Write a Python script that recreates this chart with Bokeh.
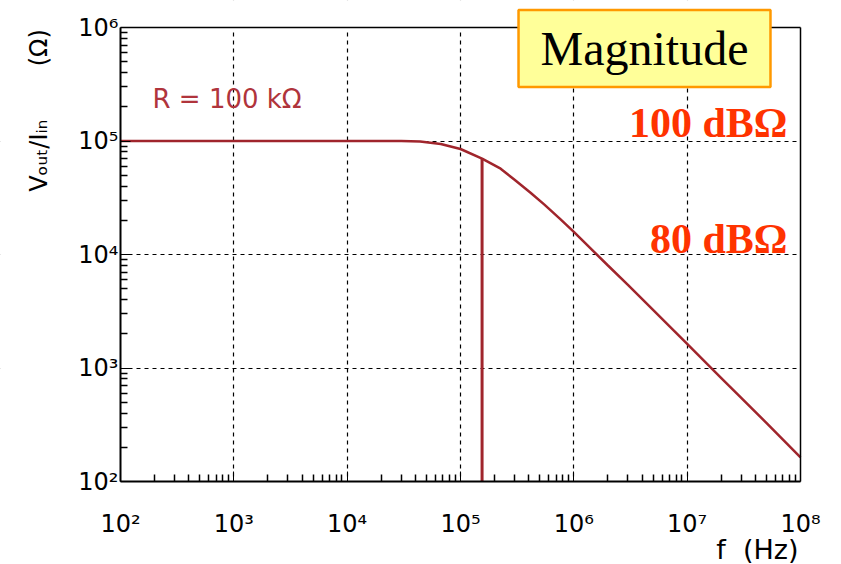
import math
from bokeh.plotting import figure
from bokeh.models import Label, Range1d, FixedTicker, LogAxis, BoxAnnotation
from bokeh.embed import file_html
from bokeh.resources import INLINE

# --- data ---
f_hz = [1e2, 1e3, 1e4, 3e4, 4.4e4, 6.7e4, 1e5, 1.55e5, 2.26e5, 3e5, 4.15e5, 5.5e5,
        7.6e5, 1e6, 2e6, 3e6, 5e6, 1e7, 2e7, 3e7, 5e7, 1e8]
mag_ohm = [1e5, 1e5, 1e5, 1e5, 9.9e4, 9.4e4, 8.5e4, 7.0e4, 5.7e4, 4.55e4, 3.5e4, 2.75e4,
           2.05e4, 1.58e4, 8.0e3, 5.4e3, 3.25e3, 1.63e3, 815, 545, 328, 163]
f_corner = [1.55e5, 1.55e5]
mag_corner = [1e2, 7.0e4]
x_ticks = [1e2, 1e3, 1e4, 1e5, 1e6, 1e7, 1e8]
x_tick_labels = ["10²", "10³", "10⁴", "10⁵", "10⁶", "10⁷", "10⁸"]
y_ticks = [1e2, 1e3, 1e4, 1e5, 1e6]
y_tick_labels = ["10²", "10³", "10⁴", "10⁵", "10⁶"]

# --- layout (pixels) ---
W, H = 841, 564
X0, X1 = 120, 800      # pixel columns of the x limits
Y0, Y1 = 481, 27       # pixel rows of the y limits
xmin, xmax = x_ticks[0], x_ticks[-1]
ymin, ymax = y_ticks[0], y_ticks[-1]
xdec = (X1 - X0) / math.log10(xmax / xmin)
ydec = (Y0 - Y1) / math.log10(ymax / ymin)


def dx(px):
    return xmin * 10 ** ((px - X0) / xdec)


def dy(py):
    return ymin * 10 ** ((Y0 - py) / ydec)


curve_color = "#a0252c"
font = "DejaVu Sans"

p = figure(width=W, height=H, x_axis_type="log", y_axis_type="log",
           x_range=Range1d(dx(0), dx(W)), y_range=Range1d(dy(H), dy(0)),
           output_backend="svg", toolbar_location=None, min_border=0)
p.outline_line_color = None
p.background_fill_color = "white"
p.border_fill_color = "white"

for ax, ticks, labels, loc, bnds in ((p.xaxis[0], x_ticks, x_tick_labels, ymin, (xmin, xmax)),
                                     (p.yaxis[0], y_ticks, y_tick_labels, xmin, (ymin, ymax))):
    ax.fixed_location = loc
    ax.bounds = bnds
    ax.major_label_overrides = {t: l for t, l in zip(ticks, labels)}
    ax.major_label_text_font = font
    ax.major_label_text_font_size = "24px"
    ax.major_label_text_color = "black"
    ax.axis_line_color = "black"
    ax.axis_line_width = 2
    ax.major_tick_in = 10
    ax.major_tick_out = 0
    ax.minor_tick_in = 7
    ax.minor_tick_out = 0
    ax.major_tick_line_color = "black"
    ax.minor_tick_line_color = "black"
    ax.minor_tick_line_width = 1.5

p.xaxis[0].ticker = FixedTicker(ticks=x_ticks,
    minor_ticks=[m * 10 ** e for e in range(2, 8) for m in range(2, 10)])
p.yaxis[0].ticker = FixedTicker(ticks=y_ticks,
    minor_ticks=[m * 10 ** e for e in range(2, 6) for m in range(2, 10)])
p.xaxis[0].major_label_standoff = 28
p.yaxis[0].major_label_standoff = 2

# frame borders on the top and the right
p.add_layout(LogAxis(fixed_location=xmax, bounds=(ymin, ymax), ticker=FixedTicker(ticks=[]),
                     axis_line_color="black", axis_line_width=1.5), "right")
p.add_layout(LogAxis(fixed_location=ymax, bounds=(xmin, xmax), ticker=FixedTicker(ticks=[]),
                     axis_line_color="black", axis_line_width=1.5), "above")

p.xgrid.ticker = FixedTicker(ticks=x_ticks[1:-1])
p.ygrid.ticker = FixedTicker(ticks=y_ticks[1:-1])
for g in (p.xgrid[0], p.ygrid[0]):
    g.grid_line_color = "black"
    g.grid_line_dash = "4 4"
    g.grid_line_width = 1.2

# blank out grid lines outside the plotting box
for kw in (dict(bottom=ymax), dict(top=ymin), dict(right=xmin), dict(left=xmax)):
    p.add_layout(BoxAnnotation(fill_color="white", fill_alpha=1.0, line_color="white",
                               line_alpha=1.0, line_width=4, level="underlay", **kw))

p.line(f_hz, mag_ohm, line_color=curve_color, line_width=2.5)
p.line(f_corner, mag_corner, line_color=curve_color, line_width=3)

p.add_layout(Label(x=dx(152), y=dy(98), text="R = 100 kΩ", text_font=font,
                   text_font_size="26px", text_color="#b0343c",
                   text_baseline="middle", text_align="left"))
p.add_layout(Label(x=dx(644), y=dy(48),
                   text="Magnitude", text_font="Liberation Serif",
                   text_font_size="48px", text_color="black",
                   text_baseline="middle", text_align="center",
                   background_fill_color="#ffff99", border_line_color="#ff9900",
                   border_line_width=2.5, padding=(22, 12)))
p.add_layout(Label(x=dx(787), y=dy(122), text="100 dBΩ", text_font="Liberation Serif",
                   text_font_size="42px", text_font_style="bold", text_color="#ff3300",
                   text_baseline="middle", text_align="right"))
p.add_layout(Label(x=dx(787), y=dy(238), text="80 dBΩ", text_font="Liberation Serif",
                   text_font_size="42px", text_font_style="bold", text_color="#ff3300",
                   text_baseline="middle", text_align="right"))
p.add_layout(Label(x=dx(38), y=dy(110),
                   text="Vₒᵤₜ/Iᵢₙ\u00a0\u00a0\u00a0\u00a0\u00a0\u00a0\u00a0(Ω)",
                   text_font=font, text_font_size="24px", text_color="black",
                   angle=math.pi / 2, text_baseline="middle", text_align="center"))
p.add_layout(Label(x=dx(798), y=dy(533), text="f\u00a0\u00a0(Hz)", text_font=font,
                   text_font_size="27px", text_color="black",
                   text_baseline="top", text_align="right"))

open("out.html", "w").write(file_html(p, INLINE))
